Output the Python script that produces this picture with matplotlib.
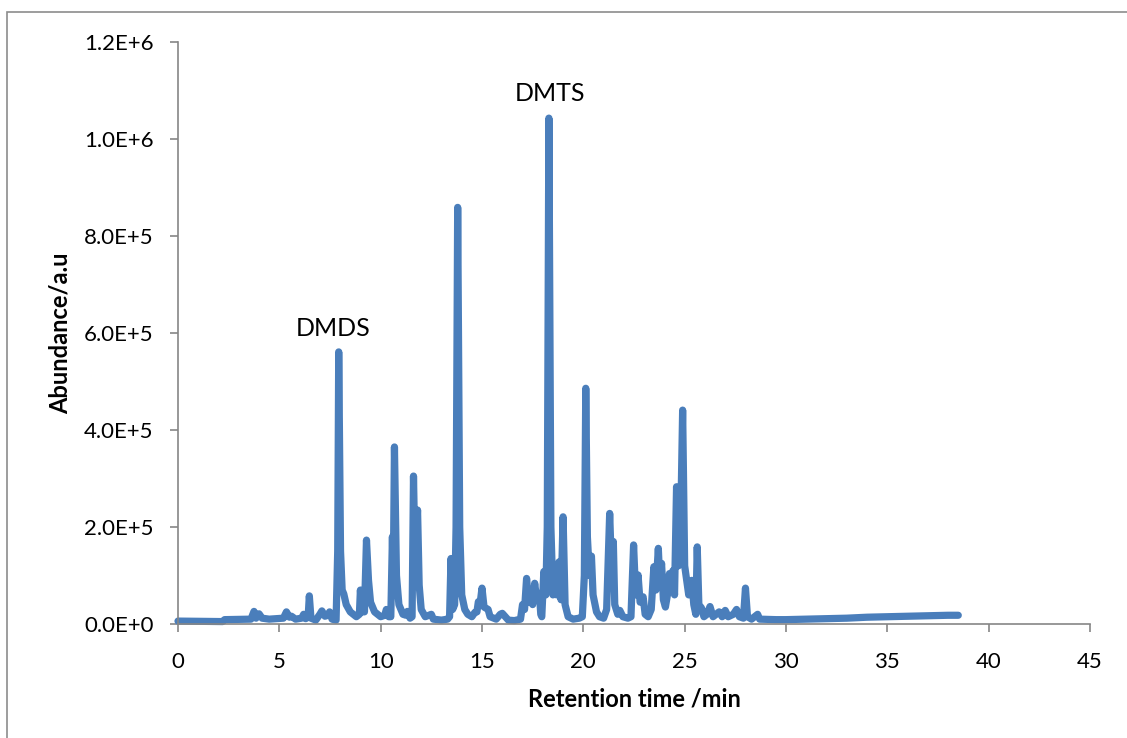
import matplotlib
matplotlib.use("Agg")
import matplotlib.pyplot as plt
from matplotlib.patches import Rectangle
from matplotlib.ticker import FuncFormatter

# chromatogram trace: retention time (min) and abundance (a.u.)
rt_min = [
    0.0, 1.0, 2.2, 2.3, 3.6, 3.75, 3.85, 4.0, 4.15, 4.5, 5.2, 5.35, 5.5, 5.6, 5.8,
    6.1, 6.2, 6.3, 6.42, 6.48, 6.56, 6.8, 7.0, 7.1, 7.25, 7.4, 7.48, 7.6, 7.8,
    7.88, 7.93, 8.02, 8.1, 8.18, 8.3, 8.5, 8.8, 8.95, 9.0, 9.07, 9.2, 9.3, 9.4,
    9.5, 9.7, 10.0, 10.2, 10.28, 10.4, 10.5, 10.58, 10.62, 10.68, 10.78, 10.9,
    11.1, 11.25, 11.32, 11.45, 11.55, 11.62, 11.7, 11.82, 11.9, 12.0, 12.2, 12.5,
    12.6, 13.0, 13.3, 13.4, 13.47, 13.55, 13.65, 13.72, 13.8, 13.9, 14.0, 14.15,
    14.3, 14.5, 14.65, 14.75, 14.82, 14.9, 15.0, 15.1, 15.3, 15.4, 15.7, 15.9,
    16.0, 16.15, 16.3, 16.6, 16.9, 17.0, 17.1, 17.2, 17.3, 17.4, 17.5, 17.6, 17.7,
    17.83, 17.9, 17.95, 18.05, 18.15, 18.22, 18.3, 18.4, 18.5, 18.6, 18.68, 18.8,
    18.9, 19.0, 19.1, 19.25, 19.5, 19.8, 19.95, 20.05, 20.12, 20.2, 20.3, 20.4,
    20.48, 20.55, 20.65, 20.8, 21.0, 21.15, 21.3, 21.4, 21.48, 21.55, 21.7, 21.8,
    21.95, 22.2, 22.35, 22.48, 22.58, 22.7, 22.8, 22.95, 23.05, 23.2, 23.35,
    23.48, 23.58, 23.7, 23.78, 23.86, 23.95, 24.05, 24.15, 24.25, 24.32, 24.42,
    24.5, 24.6, 24.7, 24.78, 24.9, 25.0, 25.1, 25.2, 25.35, 25.45, 25.55, 25.62,
    25.7, 25.83, 25.95, 26.1, 26.25, 26.4, 26.55, 26.7, 26.85, 27.0, 27.15, 27.4,
    27.56, 27.7, 27.9, 28.0, 28.1, 28.3, 28.6, 28.7, 29.5, 30.0, 31.0, 32.0,
    33.0, 34.0, 35.0, 36.0, 37.0, 38.0, 38.5,
]
abundance = [
    6000, 5500, 5000, 9000, 10000, 26000, 12000, 21000, 12000, 10000, 12000, 25000, 14000, 16000, 10000,
    12000, 20000, 11000, 14000, 58000, 12000, 8000, 20000, 27000, 16000, 18000, 25000, 10000, 8000,
    150000, 561000, 150000, 70000, 62000, 40000, 25000, 15000, 20000, 70000, 25000, 25000, 173000, 90000,
    45000, 25000, 15000, 18000, 30000, 15000, 15000, 180000, 80000, 365000, 100000, 40000,
    20000, 18000, 26000, 12000, 15000, 305000, 120000, 235000, 80000, 30000, 15000, 20000,
    10000, 8000, 10000, 15000, 135000, 30000, 40000, 200000, 859000, 200000, 60000, 30000,
    20000, 15000, 24000, 25000, 46000, 40000, 74000, 35000, 30000, 15000, 10000, 20000,
    22000, 15000, 8000, 7000, 10000, 40000, 30000, 94000, 45000, 70000, 40000, 84000, 50000,
    63000, 20000, 15000, 108000, 60000, 200000, 1043000, 200000, 60000, 118000, 60000, 128000,
    50000, 221000, 40000, 15000, 10000, 12000, 15000, 100000, 486000, 180000, 100000, 140000,
    60000, 46000, 25000, 15000, 12000, 30000, 228000, 100000, 170000, 40000, 20000, 28000,
    15000, 12000, 15000, 163000, 60000, 101000, 45000, 56000, 20000, 15000, 30000,
    118000, 70000, 156000, 80000, 125000, 50000, 35000, 60000, 104000, 70000, 110000,
    60000, 283000, 120000, 150000, 441000, 120000, 90000, 60000, 90000, 40000, 20000, 159000,
    40000, 33000, 15000, 20000, 36000, 15000, 20000, 25000, 15000, 28000, 15000, 20000,
    30000, 15000, 12000, 74000, 15000, 10000, 20000, 10000, 9000, 9000, 10000, 11000,
    12000, 14000, 15000, 16000, 17000, 18000, 18000,
]

# compound labels
peak_names = ["DMDS", "DMTS"]
peak_label_x = [7.65, 18.35]
peak_label_y = [610000, 1093000]

x_ticks = [0, 5, 10, 15, 20, 25, 30, 35, 40, 45]
y_ticks = [0, 200000, 400000, 600000, 800000, 1000000, 1200000]

plt.rcParams['font.family'] = ['Lato', 'DejaVu Sans']
axis_grey = '#868686'
line_blue = '#4a7ebb'


def sci_label(v, pos):
    if v == 0:
        return "0.0E+0"
    exp = len(str(int(abs(v)))) - 1
    return f"{v / 10 ** exp:.1f}E+{exp}"


fig = plt.figure(figsize=(11.27, 7.38), dpi=100)
ax = fig.add_axes([178 / 1127, 1 - 624 / 738, 912 / 1127, 582 / 738])

ax.plot(rt_min, abundance, color=line_blue, lw=5.2,
        solid_joinstyle='round', solid_capstyle='round', clip_on=False)

for name, x, y in zip(peak_names, peak_label_x, peak_label_y):
    ax.text(x, y, name, ha='center', va='center', fontsize=18)

ax.set_xlim(0, 45)
ax.set_ylim(0, 1200000)
ax.set_xticks(x_ticks)
ax.set_yticks(y_ticks)
ax.yaxis.set_major_formatter(FuncFormatter(sci_label))

for side in ['top', 'right']:
    ax.spines[side].set_visible(False)
for side in ['left', 'bottom']:
    ax.spines[side].set_color(axis_grey)
    ax.spines[side].set_linewidth(1.2)
ax.tick_params(axis='both', direction='out', length=5.5, width=1.2,
               color=axis_grey, labelsize=16)
ax.tick_params(axis='y', pad=12)
ax.tick_params(axis='x', pad=15)

ax.set_xlabel('Retention time /min', fontsize=17, fontweight='bold', labelpad=11)
ax.set_ylabel('Abundance/a.u', fontsize=17, fontweight='bold', labelpad=9)

# outer chart frame
fig.patches.append(Rectangle((7 / 1127, -0.05), 1.2, 1 - 11.5 / 738 + 0.05,
                             transform=fig.transFigure, fill=False,
                             edgecolor='#8c8c8c', lw=1.2))

fig.savefig('out.png', dpi=100)
